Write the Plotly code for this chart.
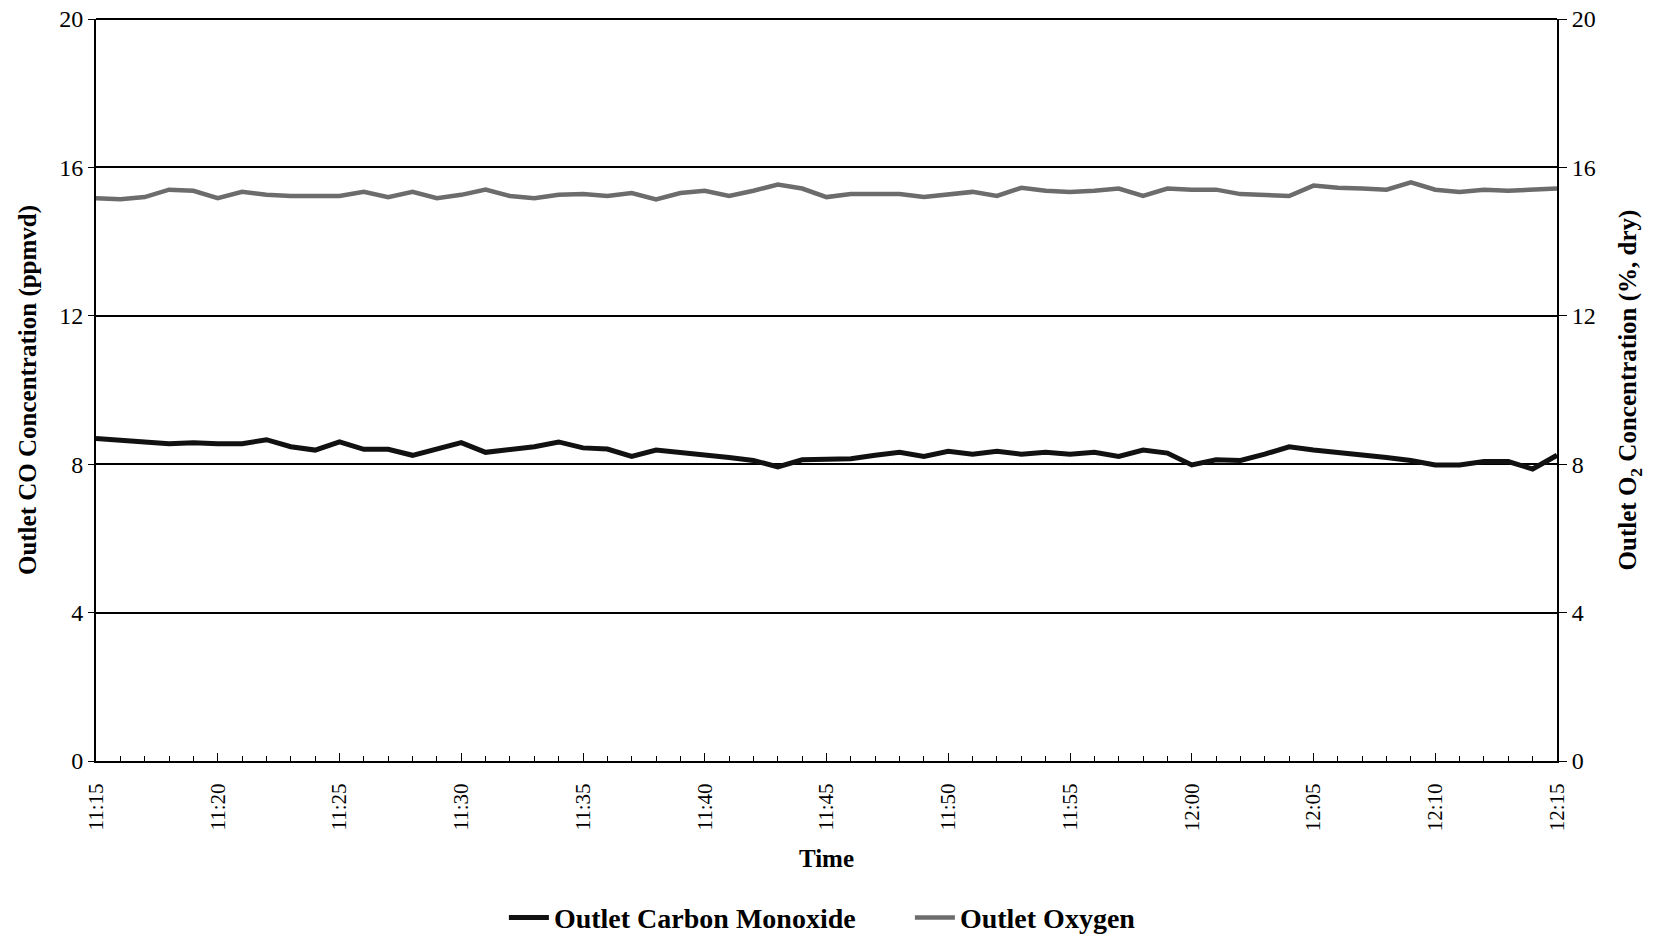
import plotly.graph_objects as go
import pandas as pd

times = pd.date_range("2000-01-01 11:15", "2000-01-01 12:15", freq="1min")

co_ppmvd = [8.69, 8.66, 8.60, 8.55, 8.58, 8.55, 8.55, 8.66, 8.47, 8.38,
            8.60, 8.40, 8.40, 8.24, 8.40, 8.58, 8.32, 8.38, 8.47, 8.60,
            8.44, 8.41, 8.21, 8.38, 8.32, 8.27, 8.18, 8.10, 7.93, 8.12,
            8.12, 8.15, 8.24, 8.32, 8.21, 8.35, 8.27, 8.35, 8.27, 8.32,
            8.27, 8.32, 8.21, 8.38, 8.30, 7.98, 8.12, 8.10, 8.27, 8.47,
            8.38, 8.32, 8.24, 8.18, 8.10, 7.98, 7.98, 8.07, 8.07, 7.87,
            8.24]

o2_pct = [15.17, 15.14, 15.20, 15.40, 15.37, 15.17, 15.34, 15.26, 15.23, 15.23,
          15.23, 15.34, 15.20, 15.34, 15.17, 15.26, 15.40, 15.23, 15.17, 15.26,
          15.28, 15.23, 15.31, 15.14, 15.31, 15.37, 15.23, 15.37, 15.54, 15.43,
          15.20, 15.28, 15.28, 15.28, 15.20, 15.28, 15.34, 15.23, 15.45, 15.37,
          15.34, 15.37, 15.43, 15.23, 15.43, 15.40, 15.40, 15.28, 15.26, 15.23,
          15.51, 15.45, 15.43, 15.40, 15.60, 15.40, 15.34, 15.40, 15.37, 15.40,
          15.43]

y_ticks = [0, 4, 8, 12, 16, 20]

FONT = "Liberation Serif"

fig = go.Figure()
fig.add_trace(go.Scatter(x=times, y=co_ppmvd, mode="lines", name="Outlet Carbon Monoxide",
                         line=dict(color="#111111", width=5)))
fig.add_trace(go.Scatter(x=times, y=o2_pct, mode="lines", name="Outlet Oxygen",
                         line=dict(color="#6c6c6c", width=4.5), yaxis="y2"))

fig.update_layout(
    width=1653, height=938,
    paper_bgcolor="white", plot_bgcolor="white",
    margin=dict(l=88, r=104, t=11, b=185, autoexpand=False),
    font=dict(family=FONT, color="black", size=20),
    showlegend=True,
    legend=dict(orientation="h", x=0.300, xanchor="left", xref="container",
                y=0.030, yanchor="middle", yref="container",
                font=dict(family=FONT, size=28, color="black", weight="bold"),
                itemwidth=40, entrywidth=351, entrywidthmode="pixels"),
    xaxis=dict(
        range=[times[0], times[-1]], automargin=False,
        tickformat="%H:%M", dtick=5 * 60 * 1000, tick0=times[0],
        tickangle=-90, ticks="inside", ticklen=8, tickcolor="black",
        ticklabelstandoff=12,
        minor=dict(dtick=60 * 1000, ticks="inside", ticklen=5, tickcolor="black"),
        showgrid=False, showline=True, linecolor="black", linewidth=2, mirror=False,
        tickfont=dict(family=FONT, size=21),
        title=dict(text="Time", font=dict(family=FONT, size=25, weight="bold"), standoff=19),
    ),
    yaxis=dict(
        range=[0, 20], tickvals=y_ticks, automargin=False, ticklabeloverflow="allow",
        showgrid=True, gridcolor="black", gridwidth=1.5,
        showline=True, linecolor="black", linewidth=2,
        ticks="outside", ticklen=6, tickcolor="black",
        tickfont=dict(family=FONT, size=24),
        title=dict(text="Outlet CO Concentration (ppmvd)",
                   font=dict(family=FONT, size=25, weight="bold"), standoff=15),
        zeroline=False,
    ),
    yaxis2=dict(
        range=[0, 20], tickvals=y_ticks, overlaying="y", side="right", automargin=False,
        ticklabeloverflow="allow",
        showgrid=False, showline=True, linecolor="black", linewidth=2,
        ticks="outside", ticklen=8, tickcolor="black",
        tickfont=dict(family=FONT, size=24),
        title=dict(text="Outlet O<sub>2</sub> Concentration (%, dry)",
                   font=dict(family=FONT, size=25, weight="bold"), standoff=24),
        zeroline=False,
    ),
)

# top frame line
fig.add_shape(type="line", xref="paper", yref="paper", x0=0, x1=1, y0=1, y1=1,
              line=dict(color="black", width=2))

fig.write_html("out.html")
